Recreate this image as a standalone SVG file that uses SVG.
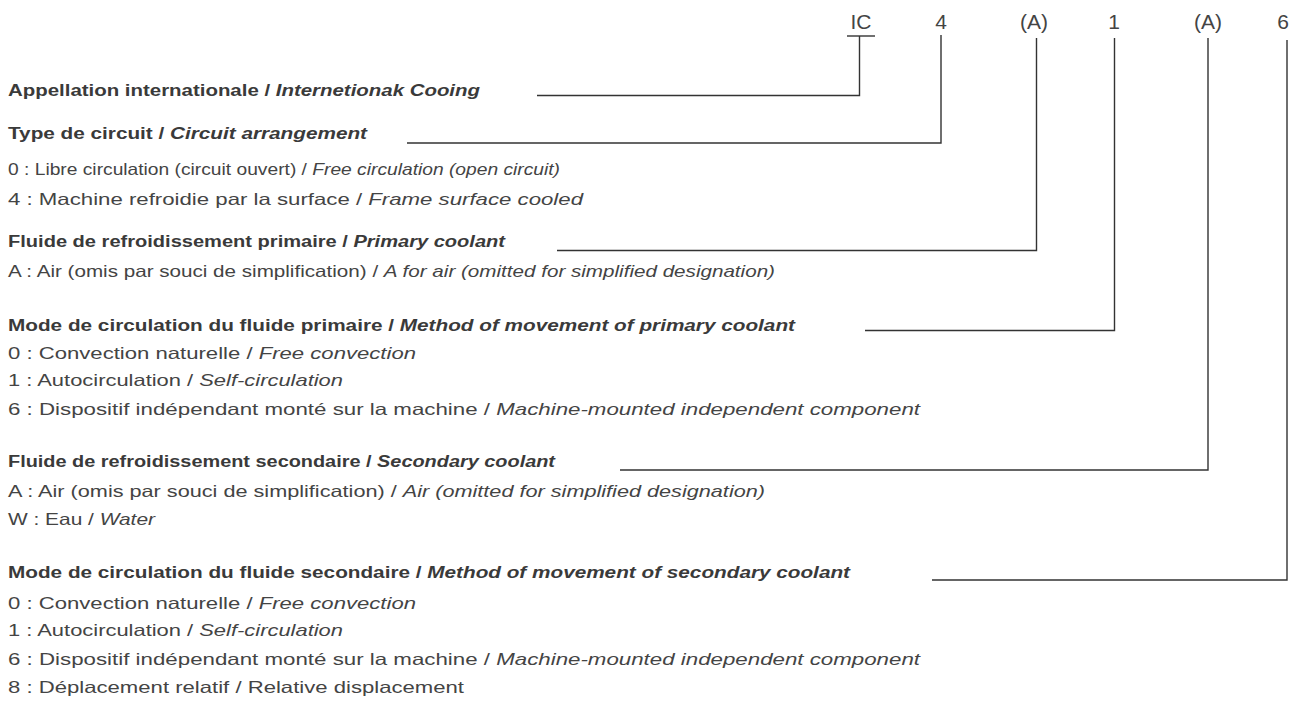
<svg xmlns="http://www.w3.org/2000/svg" width="1300" height="711" viewBox="0 0 1300 711">
<style>
.code{font-family:"Liberation Sans",Arial,sans-serif;font-size:21px;fill:#444;text-anchor:middle}
.h{font-family:"Liberation Sans",Arial,sans-serif;font-size:16px;font-weight:bold;fill:#3a3a3a}
.it{font-family:"Liberation Sans",Arial,sans-serif;font-size:16.5px;fill:#444}
.i{font-style:italic}
.ln{fill:none;stroke:#333;stroke-width:1.4}
</style>
<rect width="1300" height="711" fill="#fff"/>
<g id="codes">
<text class="code" x="861" y="29">IC</text>
<line class="ln" x1="847" y1="36" x2="875" y2="36"/>
<text class="code" x="941" y="29">4</text>
<text class="code" x="1034" y="29">(A)</text>
<text class="code" x="1114" y="29">1</text>
<text class="code" x="1208" y="29">(A)</text>
<text class="code" x="1283" y="29">6</text>
</g>
<g id="connectors">
<path class="ln" d="M537,95.5 H859.5 V36"/>
<path class="ln" d="M407,143 H941 V35"/>
<path class="ln" d="M557,250.5 H1036.5 V38"/>
<path class="ln" d="M865,330.5 H1114.5 V38"/>
<path class="ln" d="M620,470 H1208 V38"/>
<path class="ln" d="M932,580 H1287 V40"/>
</g>
<g id="node-ic">
<text class="h" x="8" y="96" textLength="472" lengthAdjust="spacingAndGlyphs">Appellation internationale / <tspan class="i">Internetionak Cooing</tspan></text>
</g>
<g id="node-circuit">
<text class="h" x="8" y="139" textLength="359" lengthAdjust="spacingAndGlyphs">Type de circuit / <tspan class="i">Circuit arrangement</tspan></text>
<text class="it" x="8" y="175" textLength="552" lengthAdjust="spacingAndGlyphs">0 : Libre circulation (circuit ouvert) / <tspan class="i">Free circulation (open circuit)</tspan></text>
<text class="it" x="8" y="205" textLength="575" lengthAdjust="spacingAndGlyphs">4 : Machine refroidie par la surface / <tspan class="i">Frame surface cooled</tspan></text>
</g>
<g id="node-primary">
<text class="h" x="8" y="247" textLength="497" lengthAdjust="spacingAndGlyphs">Fluide de refroidissement primaire / <tspan class="i">Primary coolant</tspan></text>
<text class="it" x="8" y="277" textLength="767" lengthAdjust="spacingAndGlyphs">A : Air (omis par souci de simplification) / <tspan class="i">A for air (omitted for simplified designation)</tspan></text>
</g>
<g id="node-primary-mode">
<text class="h" x="8" y="331" textLength="787" lengthAdjust="spacingAndGlyphs">Mode de circulation du fluide primaire / <tspan class="i">Method of movement of primary coolant</tspan></text>
<text class="it" x="8" y="359" textLength="408" lengthAdjust="spacingAndGlyphs">0 : Convection naturelle / <tspan class="i">Free convection</tspan></text>
<text class="it" x="8" y="386" textLength="335" lengthAdjust="spacingAndGlyphs">1 : Autocirculation / <tspan class="i">Self-circulation</tspan></text>
<text class="it" x="8" y="415" textLength="912" lengthAdjust="spacingAndGlyphs">6 : Dispositif indépendant monté sur la machine / <tspan class="i">Machine-mounted independent component</tspan></text>
</g>
<g id="node-secondary">
<text class="h" x="8" y="467" textLength="547" lengthAdjust="spacingAndGlyphs">Fluide de refroidissement secondaire / <tspan class="i">Secondary coolant</tspan></text>
<text class="it" x="8" y="497" textLength="757" lengthAdjust="spacingAndGlyphs">A : Air (omis par souci de simplification) / <tspan class="i">Air (omitted for simplified designation)</tspan></text>
<text class="it" x="8" y="525" textLength="147" lengthAdjust="spacingAndGlyphs">W : Eau / <tspan class="i">Water</tspan></text>
</g>
<g id="node-secondary-mode">
<text class="h" x="8" y="578" textLength="842" lengthAdjust="spacingAndGlyphs">Mode de circulation du fluide secondaire / <tspan class="i">Method of movement of secondary coolant</tspan></text>
<text class="it" x="8" y="609" textLength="408" lengthAdjust="spacingAndGlyphs">0 : Convection naturelle / <tspan class="i">Free convection</tspan></text>
<text class="it" x="8" y="636" textLength="335" lengthAdjust="spacingAndGlyphs">1 : Autocirculation / <tspan class="i">Self-circulation</tspan></text>
<text class="it" x="8" y="665" textLength="912" lengthAdjust="spacingAndGlyphs">6 : Dispositif indépendant monté sur la machine / <tspan class="i">Machine-mounted independent component</tspan></text>
<text class="it" x="8" y="693" textLength="456" lengthAdjust="spacingAndGlyphs">8 : Déplacement relatif / Relative displacement</text>
</g>
</svg>
